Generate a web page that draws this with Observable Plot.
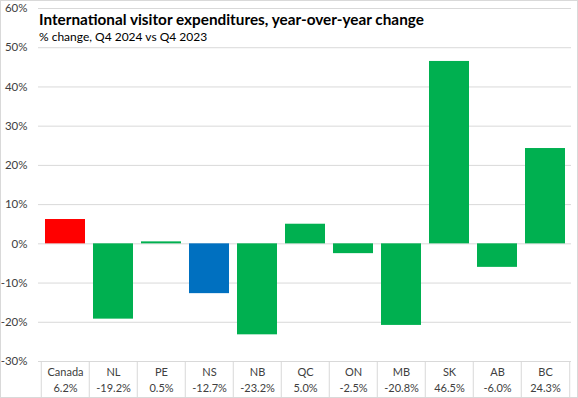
<!DOCTYPE html>
<html>
<head>
<meta charset="utf-8">
<script src="https://cdn.jsdelivr.net/npm/d3@7"></script>
<script src="https://cdn.jsdelivr.net/npm/@observablehq/plot@0.6"></script>
<style>
  html, body { margin: 0; padding: 0; background: #fff; }
  #wrap { position: relative; width: 578px; height: 398px; overflow: hidden; }
  #border { position: absolute; left: 0; top: 0; width: 576px; height: 396px; border: 1px solid #d9d9d9; pointer-events: none; }
  #title { position: absolute; left: 39px; top: 10px; font-family: Lato, sans-serif; font-weight: bold; font-size: 15.3px; color: #000; white-space: nowrap; }
  #subtitle { position: absolute; left: 39px; top: 29px; font-family: Lato, sans-serif; font-size: 12px; color: #000; white-space: nowrap; }
  svg { display: block; }
</style>
</head>
<body>
<div id="wrap">
  <div id="chart"></div>
  <div id="title">International visitor expenditures, year-over-year change</div>
  <div id="subtitle">% change, Q4 2024 vs Q4 2023</div>
  <div id="border"></div>
</div>
<script>
const categories = ["Canada", "NL", "PE", "NS", "NB", "QC", "ON", "MB", "SK", "AB", "BC"];
const values = [6.2, -19.2, 0.5, -12.7, -23.2, 5.0, -2.5, -20.8, 46.5, -6.0, 24.3];
const colors = ["#FF0000", "#00B050", "#00B050", "#0070C0", "#00B050", "#00B050", "#00B050", "#00B050", "#00B050", "#00B050", "#00B050"];
const yTicks = [-30, -20, -10, 0, 10, 20, 30, 40, 50, 60];

const data = categories.map((c, i) => ({category: c, value: values[i], color: colors[i]}));

const W = 578, H = 398;
const mL = 38, mR = 7, mT = 8, mB = 37;
const step = (W - mL - mR) / categories.length;
const font = "Lato, sans-serif";

const chart = Plot.plot({
  width: W,
  height: H,
  marginLeft: mL,
  marginRight: mR,
  marginTop: mT,
  marginBottom: mB,
  style: {fontFamily: font, background: "#fff"},
  x: {domain: categories, paddingInner: 0.174, paddingOuter: 0.087, axis: null},
  y: {domain: [-30, 60], axis: null, label: null},
  marks: [
    Plot.gridY(yTicks, {stroke: "#d9d9d9", strokeOpacity: 1}),
    Plot.axisY(yTicks, {tickSize: 0, tickPadding: 11, tickFormat: d => d + "%", fontSize: 11.5, fill: "#404040", label: null}),
    Plot.barY(data, {x: "category", y: "value", fill: "color"}),
    Plot.ruleX(categories, {x: d => d, y1: -30, y2: -30, insetBottom: -37, dx: -step / 2, stroke: "#d9d9d9"}),
    Plot.ruleX([categories[categories.length - 1]], {x: d => d, y1: -30, y2: -30, insetBottom: -37, dx: step / 2, stroke: "#d9d9d9"}),
    Plot.text(data, {x: "category", frameAnchor: "bottom", dy: 14, text: "category", fontSize: 11, fill: "#404040"}),
    Plot.text(data, {x: "category", frameAnchor: "bottom", dy: 30, text: d => d.value.toFixed(1) + "%", fontSize: 11, fill: "#404040"})
  ]
});
document.getElementById("chart").append(chart);
</script>
</body>
</html>
